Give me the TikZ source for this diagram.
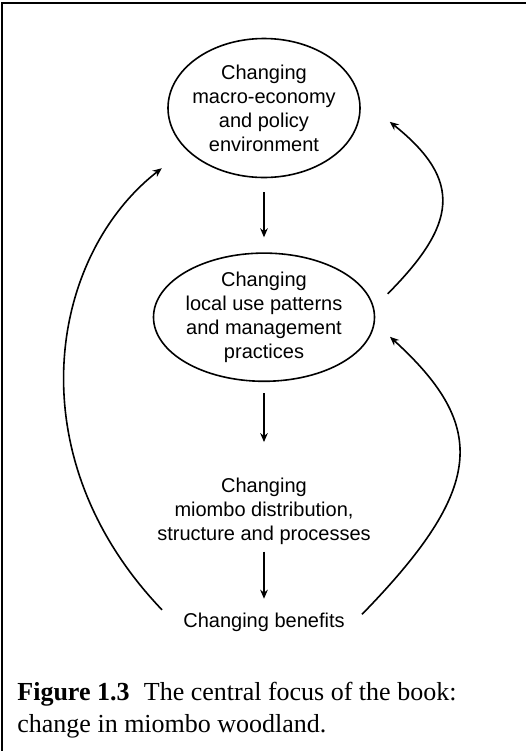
\documentclass[tikz,border=0pt]{standalone}
\usepackage{fontspec}
\setmainfont{Liberation Serif}
\setsansfont{Liberation Sans}
\usetikzlibrary{shapes,arrows.meta,positioning}

\begin{document}
\begin{tikzpicture}[% one unit is one pixel of the scan, y runs downwards
		x=0.5pt,y=-0.5pt,
		every node/.style={
			align=center,		% use this so that the "\\" for line break works
			inner sep=0pt,
			font=\sffamily\fontsize{10}{12}\selectfont
		},
		oval/.style={ellipse,draw,line width=0.8pt,inner xsep=-2pt},
		every edge/.style={draw,line width=0.8pt},
		loopback/.style={draw,line width=0.8pt,->},
		>={Stealth[length=4.5pt,width=3.8pt]}
	]
	\useasboundingbox (0,0) rectangle (526,751);
	% frame of the figure, only top and left edge show
	\draw[line width=1pt] (2,751) -- (2,3) -- (526,3);
	\node[oval,minimum width=96pt,minimum height=69.5pt](M1) at (264,108){Changing\\ macro-economy\\ and policy\\ environment};
	\node[oval,minimum width=110.5pt,minimum height=62.5pt](M2)[below=37pt of M1]{Changing\\ local use patterns\\ and management\\ practices};
	\node(M3)[below=47.7pt of M2]{Changing\\ miombo distribution,\\ structure and processes};
	\node(M4)[below=33.7pt of M3]{Changing benefits};
	\node[font=\rmfamily\fontsize{13}{16}\selectfont,align=left,anchor=north west](C1) at (17,682){\textbf{Figure 1.3}\hspace{0.55em}The central focus of the book:\\ change in miombo woodland.};
	\path[->]
	(M1)edge [shorten <=7pt,shorten >=7.5pt] (M2)
	(M2)edge [shorten <=5.5pt,shorten >=17.7pt] (M3)
	(M3)edge [shorten <=3.4pt,shorten >=6.8pt] (M4)
	;
	% feedback loops
	\draw[loopback,shorten <=15.2pt,shorten >=15.25pt] (M4.south west) .. controls (14,455) and (50,255) .. (M1.208);
	\draw[loopback,shorten <=9.7pt,shorten >=19.15pt] (M2.5) .. controls (456,225) and (464,181) .. (M1.6);
	\draw[loopback,shorten <=12.2pt,shorten >=10.25pt] (M4.south east) .. controls (484.4,488.7) and (488.9,426.8) .. (M2.357);
\end{tikzpicture}
\end{document}
